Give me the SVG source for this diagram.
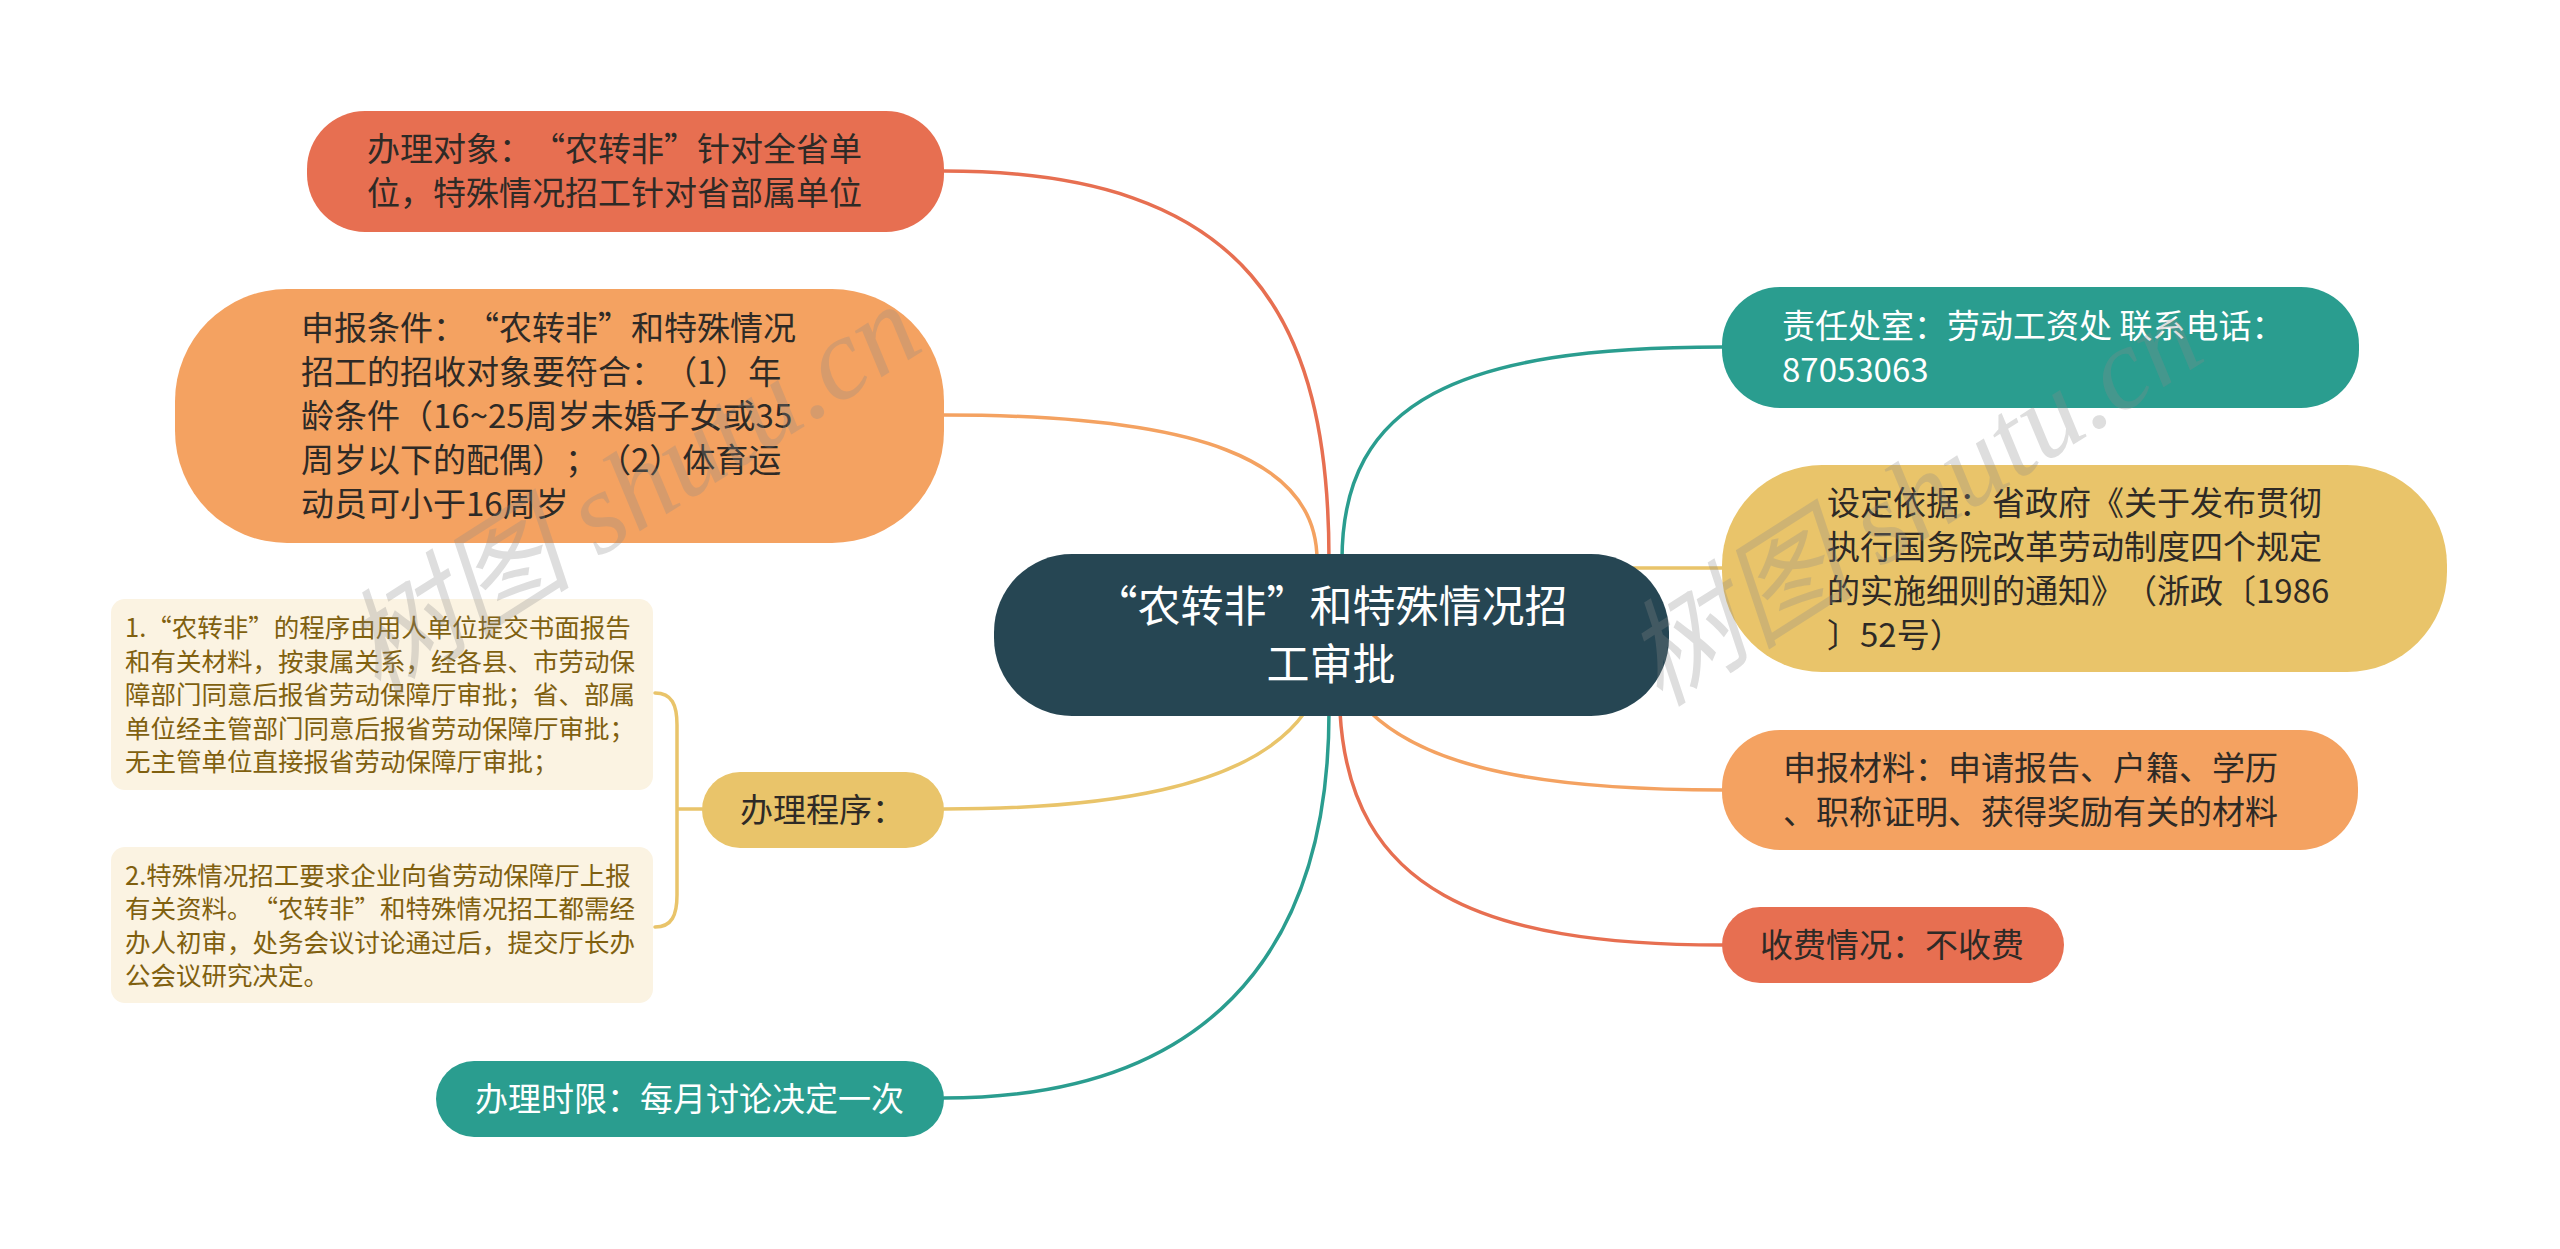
<svg xmlns="http://www.w3.org/2000/svg" width="2560" height="1249" viewBox="0 0 2560 1249">
<style>
text{text-spacing-trim:space-all;}
.t{font-family:"Noto Sans CJK SC","Noto Sans",sans-serif;}
.n33{font-size:33px;}
.dk{fill:#2e2a26;}
.wt{fill:#ffffff;}
.det{font-size:25.5px;fill:#80600f;}
.c{fill:none;stroke-width:3.5;stroke-linecap:round;}
.wm{font-family:"Liberation Serif","Noto Sans CJK SC",serif;font-style:italic;font-size:116px;fill:#8a8a8a;opacity:0.28;}
</style>
<rect width="2560" height="1249" fill="#ffffff"/>
<g id="connectors">
<path class="c" stroke="#E76F51" d="M944,171 C1250,171 1329,320 1329,560"/>
<path class="c" stroke="#F4A261" d="M944,415 C1200,415 1317,460 1317,560"/>
<path class="c" stroke="#2A9D8F" d="M1342,560 C1342,400 1460,347 1722,347"/>
<path class="c" stroke="#E9C46A" d="M1560,568 L1722,568"/>
<path class="c" stroke="#E9C46A" d="M1305,712 C1250,790 1100,809 944,809"/>
<path class="c" stroke="#2A9D8F" d="M1329,712 C1329,960 1200,1098 944,1098"/>
<path class="c" stroke="#E76F51" d="M1340,712 C1350,890 1480,945 1722,945"/>
<path class="c" stroke="#F4A261" d="M1370,712 C1430,770 1550,790 1722,790"/>
<path class="c" stroke="#E9C46A" d="M655,693 C672,693 677,705 677,725 L677,895 C677,915 672,927 655,927 M677,809 L702,809"/>
</g>
<g id="root">
<rect x="994" y="554" width="675" height="162" rx="78" fill="#264653"/>
<text class="t wt" font-size="43" text-anchor="middle"><tspan x="1331" y="622">“农转非”和特殊情况招</tspan><tspan x="1331" y="680">工审批</tspan></text>
</g>
<g id="node-duixiang">
<rect x="307" y="111" width="637" height="121" rx="58" fill="#E76F51"/>
<text class="t n33 dk"><tspan x="367" y="161">办理对象：“农转非”针对全省单</tspan><tspan x="367" y="205">位，特殊情况招工针对省部属单位</tspan></text>
</g>
<g id="node-tiaojian">
<rect x="175" y="289" width="769" height="254" rx="112" fill="#F4A261"/>
<text class="t n33 dk"><tspan x="301" y="340">申报条件：“农转非”和特殊情况</tspan><tspan x="301" y="384">招工的招收对象要符合：（1）年</tspan><tspan x="301" y="428">龄条件（16~25周岁未婚子女或35</tspan><tspan x="301" y="472">周岁以下的配偶）；（2）体育运</tspan><tspan x="301" y="516">动员可小于16周岁</tspan></text>
</g>
<g id="node-chengxu">
<rect x="702" y="772" width="242" height="76" rx="38" fill="#E9C46A"/>
<text class="t n33 dk" x="740" y="822">办理程序：</text>
</g>
<g id="node-chengxu-1">
<rect x="111" y="599" width="542" height="191" rx="14" fill="#FBF3E2"/>
<text class="t det"><tspan x="125" y="637">1.“农转非”的程序由用人单位提交书面报告</tspan><tspan x="125" y="671">和有关材料，按隶属关系，经各县、市劳动保</tspan><tspan x="125" y="704">障部门同意后报省劳动保障厅审批；省、部属</tspan><tspan x="125" y="738">单位经主管部门同意后报省劳动保障厅审批；</tspan><tspan x="125" y="771">无主管单位直接报省劳动保障厅审批；</tspan></text>
</g>
<g id="node-chengxu-2">
<rect x="111" y="847" width="542" height="156" rx="14" fill="#FBF3E2"/>
<text class="t det"><tspan x="125" y="885">2.特殊情况招工要求企业向省劳动保障厅上报</tspan><tspan x="125" y="918">有关资料。“农转非”和特殊情况招工都需经</tspan><tspan x="125" y="952">办人初审，处务会议讨论通过后，提交厅长办</tspan><tspan x="125" y="985">公会议研究决定。</tspan></text>
</g>
<g id="node-shixian">
<rect x="436" y="1061" width="508" height="76" rx="38" fill="#2A9D8F"/>
<text class="t n33 wt" x="475" y="1111">办理时限：每月讨论决定一次</text>
</g>
<g id="node-zeren">
<rect x="1722" y="287" width="637" height="121" rx="58" fill="#2A9D8F"/>
<text class="t n33 wt"><tspan x="1782" y="338">责任处室：劳动工资处 联系电话：</tspan><tspan x="1782" y="382">87053063</tspan></text>
</g>
<g id="node-yiju">
<rect x="1722" y="465" width="725" height="207" rx="100" fill="#E9C46A"/>
<text class="t n33 dk"><tspan x="1827" y="515">设定依据：省政府《关于发布贯彻</tspan><tspan x="1827" y="559">执行国务院改革劳动制度四个规定</tspan><tspan x="1827" y="603">的实施细则的通知》（浙政〔1986</tspan><tspan x="1827" y="647">〕52号）</tspan></text>
</g>
<g id="node-cailiao">
<rect x="1722" y="730" width="636" height="120" rx="58" fill="#F4A261"/>
<text class="t n33 dk"><tspan x="1783" y="780">申报材料：申请报告、户籍、学历</tspan><tspan x="1783" y="824">、职称证明、获得奖励有关的材料</tspan></text>
</g>
<g id="node-shoufei">
<rect x="1722" y="907" width="342" height="76" rx="38" fill="#E76F51"/>
<text class="t n33 dk" x="1760" y="957">收费情况：不收费</text>
</g>
<g id="watermark">
<text class="wm" transform="translate(378,698) rotate(-32.5)">树图 shutu.cn</text>
<text class="wm" transform="translate(1660,708) rotate(-32.5)">树图 shutu.cn</text>
</g>
</svg>
